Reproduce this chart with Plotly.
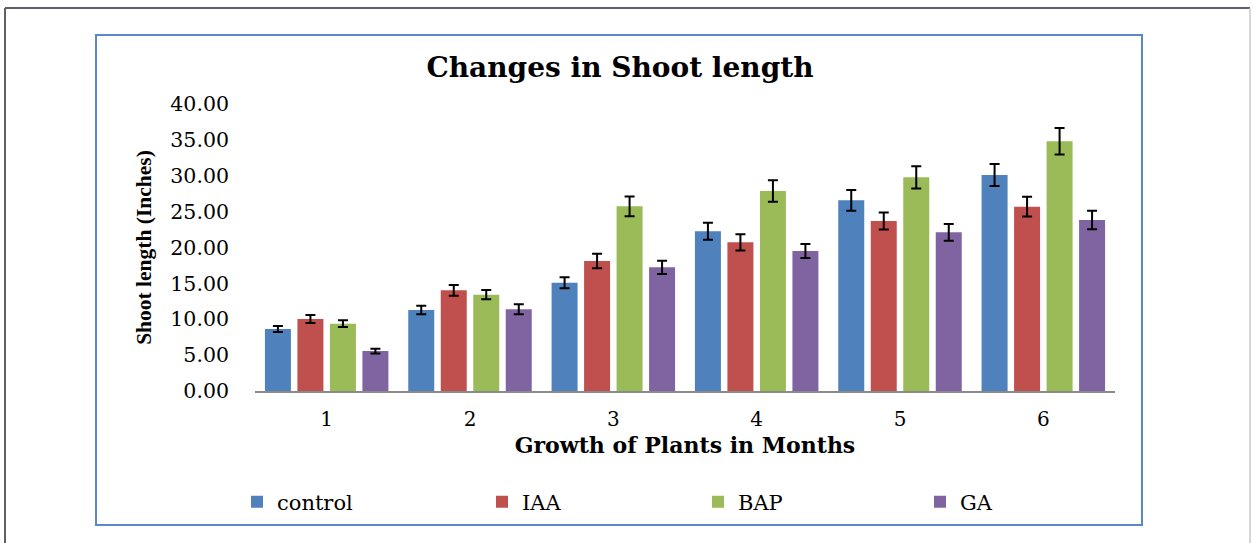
import plotly.graph_objects as go

months = ["1", "2", "3", "4", "5", "6"]
series_names = ["control", "IAA", "BAP", "GA"]
control = [8.64, 11.29, 15.10, 22.26, 26.57, 30.10]
control_err = [0.42, 0.58, 0.77, 1.18, 1.44, 1.53]
iaa = [10.03, 14.03, 18.12, 20.72, 23.69, 25.69]
iaa_err = [0.55, 0.74, 1.00, 1.14, 1.18, 1.37]
bap = [9.38, 13.43, 25.74, 27.87, 29.78, 34.80]
bap_err = [0.47, 0.65, 1.37, 1.49, 1.56, 1.84]
ga = [5.57, 11.38, 17.24, 19.51, 22.11, 23.83]
ga_err = [0.33, 0.70, 0.93, 0.98, 1.16, 1.28]
y_ticks = [0, 5, 10, 15, 20, 25, 30, 35, 40]
y_tick_labels = ["0.00", "5.00", "10.00", "15.00", "20.00", "25.00", "30.00", "35.00", "40.00"]

colors = ["#4F81BD", "#C0504D", "#9BBB59", "#8064A2"]
values = [control, iaa, bap, ga]
errors = [control_err, iaa_err, bap_err, ga_err]
legend_ids = ["legend", "legend2", "legend3", "legend4"]
legend_left_px = [237, 482, 698, 920]

W, H = 1254, 543
L, R, T, B = 255, 1115, 104, 391  # plot area pixels


def px(x):
    return (x - L) / (R - L)


def py(y):
    return (B - y) / (B - T)


fig = go.Figure()
for name, vals, errs, col, lg in zip(series_names, values, errors, colors, legend_ids):
    fig.add_trace(go.Bar(
        name=name, x=months, y=vals, marker=dict(color=col, line=dict(width=0)),
        error_y=dict(type="data", array=errs, visible=True, color="black",
                     thickness=2, width=5),
        legend=lg,
    ))

serif = "DejaVu Serif"
legend_font = dict(family=serif, size=21, color="black")
layout_legends = {}
for lg, lx in zip(legend_ids, legend_left_px):
    layout_legends[lg] = dict(orientation="h", x=px(lx), xanchor="left", y=py(502),
                              yanchor="middle", font=legend_font,
                              bgcolor="rgba(0,0,0,0)")

fig.update_layout(
    width=W, height=H,
    paper_bgcolor="white", plot_bgcolor="white",
    margin=dict(l=L, r=W - R, t=T, b=H - B, pad=0),
    barmode="group", bargap=0.093, bargroupgap=0.2,
    title=dict(text="<b>Changes in Shoot length</b>", x=620 / W, xanchor="center",
               y=1 - 67 / H, yanchor="middle", xref="container", yref="container",
               font=dict(family=serif, size=28, color="black")),
    xaxis=dict(type="category", showline=True, linecolor="#8a8a8a", linewidth=2,
               showgrid=False, ticks="", ticklabelstandoff=9,
               tickfont=dict(family=serif, size=20, color="black"),
               title=dict(text="<b>Growth of Plants in Months</b>", standoff=8,
                          font=dict(family=serif, size=22, color="black"))),
    yaxis=dict(range=[0, 40], tickvals=y_ticks, ticktext=y_tick_labels,
               showline=False, showgrid=False, zeroline=False, ticks="",
               ticklabelstandoff=25,
               tickfont=dict(family=serif, size=20.5, color="black"),
               title=dict(text="<b>Shoot length (Inches)</b>", standoff=12,
                          font=dict(family="Liberation Serif", size=21.5, color="black"))),
    showlegend=True,
    **layout_legends,
)

# outer frame
fig.add_shape(type="line", xref="paper", yref="paper", x0=px(5), x1=px(1250), y0=py(8), y1=py(8),
              line=dict(color="#5f6068", width=2))
fig.add_shape(type="line", xref="paper", yref="paper", x0=px(5), x1=px(5), y0=py(8), y1=py(560),
              line=dict(color="#5f6068", width=2))
fig.add_shape(type="line", xref="paper", yref="paper", x0=px(1250), x1=px(1250), y0=py(8), y1=py(560),
              line=dict(color="#c8c8c8", width=1.5))
# inner blue frame
fig.add_shape(type="rect", xref="paper", yref="paper", x0=px(96), x1=px(1142), y0=py(35), y1=py(525),
              line=dict(color="#5b87c5", width=2), fillcolor="rgba(0,0,0,0)", layer="below")

fig.write_html("out.html", config={"displayModeBar": False},
               post_script="document.body.style.margin='0';")
